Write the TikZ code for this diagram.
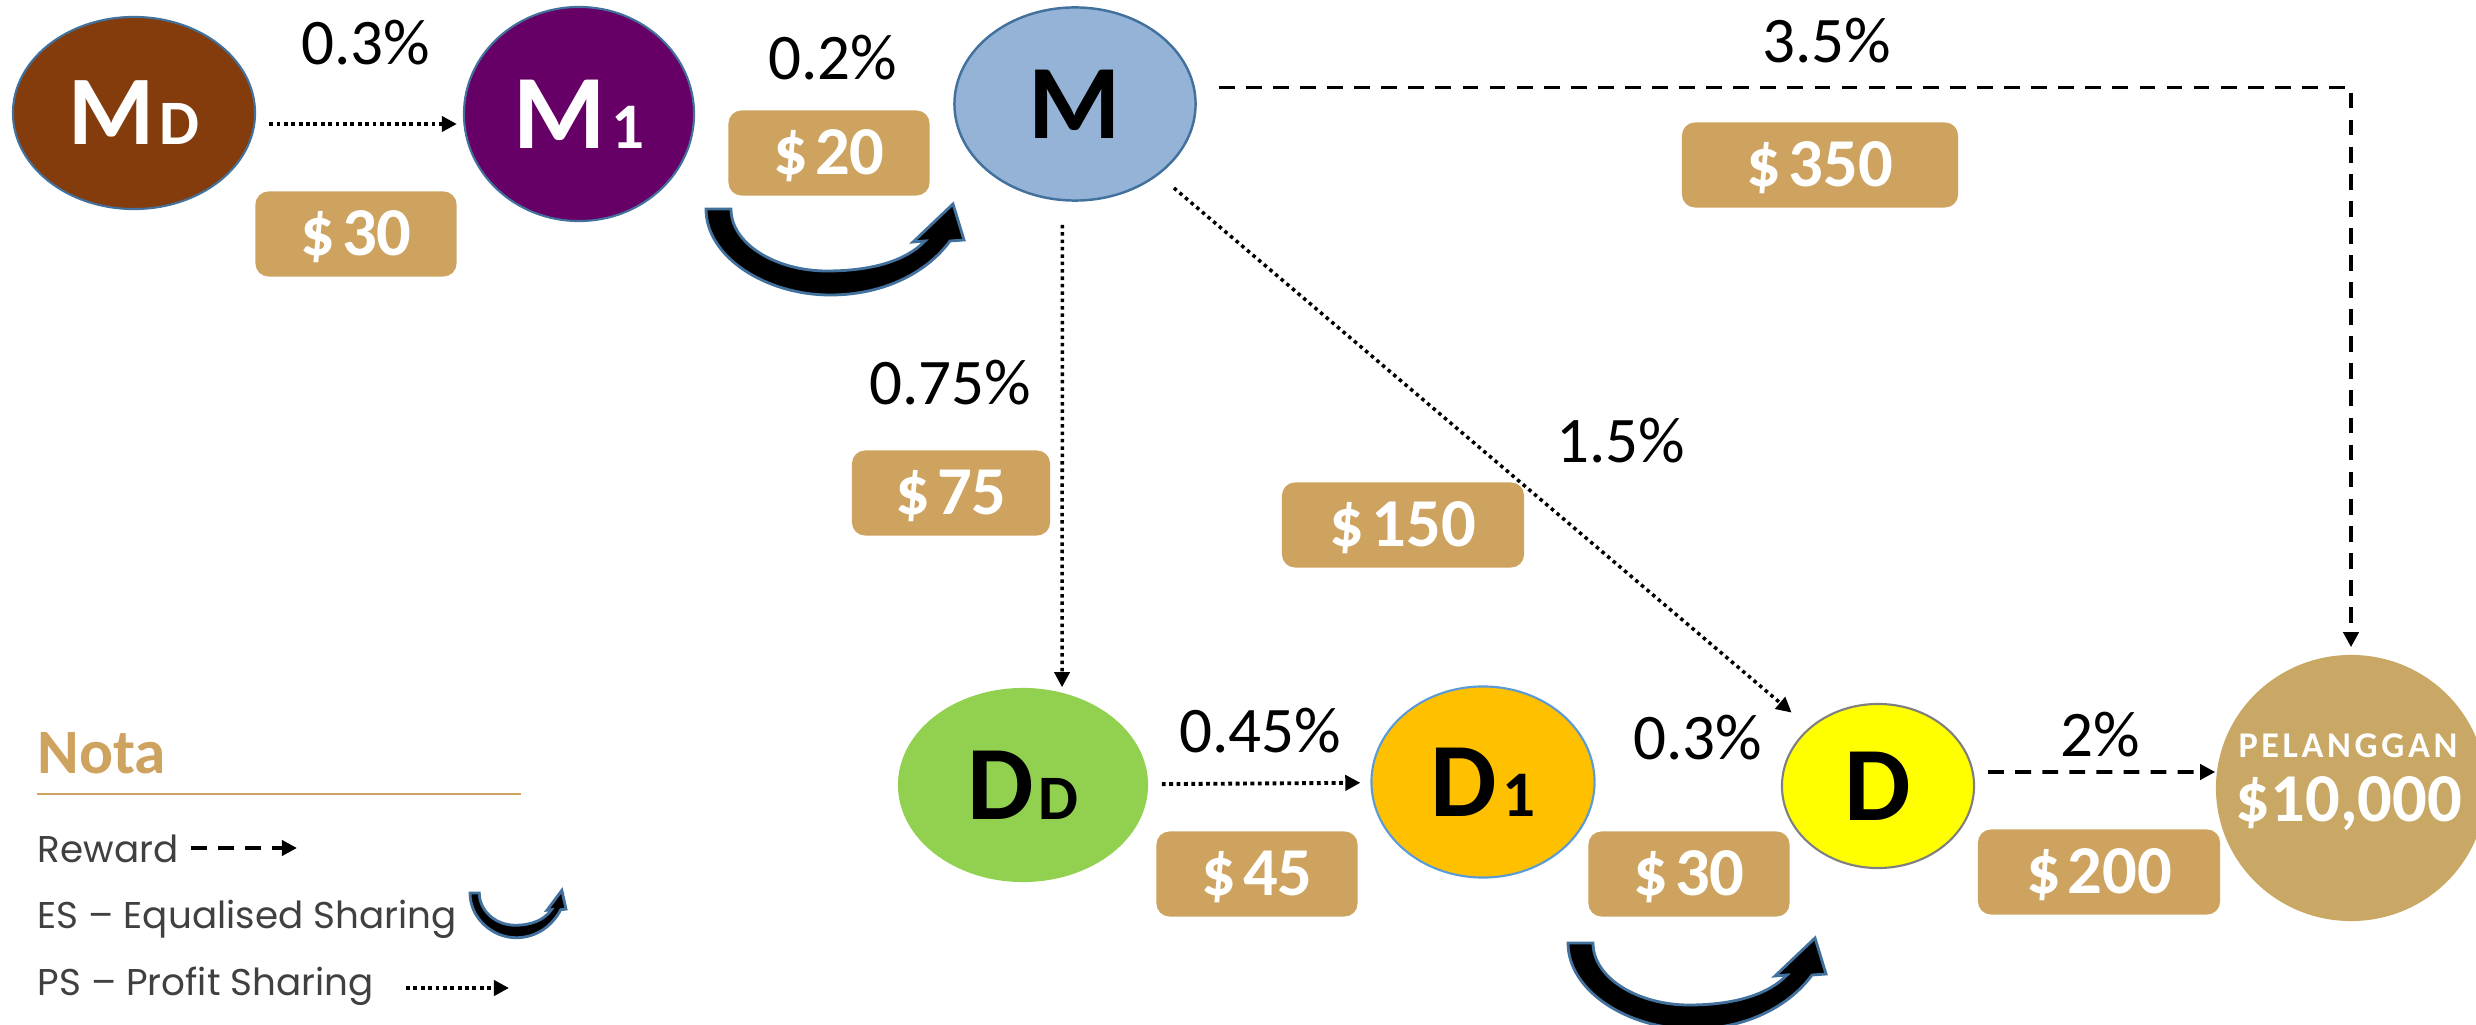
\documentclass[tikz,border=0pt]{standalone}
\usepackage{fontspec}
\setmainfont{Carlito}
\newfontfamily\poppins{Poppins}
\newfontfamily\spaced[LetterSpace=10]{Carlito}
\usetikzlibrary{shapes.geometric, arrows.meta}

\definecolor{brownMD}{HTML}{843C0C}
\definecolor{purpleM}{HTML}{660066}
\definecolor{blueM}{HTML}{95B3D7}
\definecolor{greenD}{HTML}{92D050}
\definecolor{orangeD}{HTML}{FFC000}
\definecolor{yellowD}{HTML}{FFFF00}
\definecolor{gold}{HTML}{CDA35F}
\definecolor{goldP}{HTML}{C9A865}
\definecolor{edgeblue}{HTML}{41719C}
\definecolor{lightedge}{HTML}{5B9BD5}
\definecolor{greyedge}{HTML}{7F7F7F}
\definecolor{legendtext}{HTML}{404040}

\tikzset{
  member/.style={ellipse, inner sep=0pt, font=\bfseries},
  money/.style={rectangle, rounded corners=0.13cm, fill=gold, text=white, inner sep=0pt,
    minimum height=0.85cm, minimum width=2.01cm, text height=12.3pt, text depth=0pt,
    font=\bfseries\fontsize{19.5}{19.5}\selectfont},
  pct/.style={anchor=base, inner sep=0pt, font=\fontsize{18.5}{18.5}\selectfont},
  ps/.style={line width=1.1pt, dash pattern=on 1.1pt off 1pt, -{Triangle[length=4.3pt,width=4.3pt]}},
  psthin/.style={ps, line width=1pt, dash pattern=on 1pt off 1.1pt},
  reward/.style={line width=1.1pt, dash pattern=on 4.5pt off 3.2pt, -{Triangle[length=4.3pt,width=4.3pt]}},
  legend/.style={anchor=base west, inner sep=0pt, text=legendtext, font=\poppins\fontsize{10.6}{10.6}\selectfont},
  pics/esarrow/.style={code={
    \draw[fill=black, draw=edgeblue, line width=0.8pt, line join=miter]
      (0,0) .. controls (0,48) and (60,86) .. (124,86)
      .. controls (180,86) and (222,62) .. (244,32)
      -- (258,31) -- (247,-5) -- (207,33) -- (219,32)
      .. controls (200,52) and (165,62) .. (121,62)
      .. controls (70,62) and (25,35) .. (25,0) -- cycle;
  }}
}

\begin{document}
\begin{tikzpicture}[x=0.01cm, y=-0.01cm]
\useasboundingbox (0,0) rectangle (2476,1025);

% members
\node[member, fill=brownMD, draw=edgeblue, line width=0.6pt, text=white, minimum width=2.42cm, minimum height=1.92cm] (MD) at (134,113)
  {{\fontsize{28}{28}\selectfont M}\hspace{1.5pt}{\fontsize{18}{18}\selectfont D}};
\node[member, fill=purpleM, draw=edgeblue, line width=0.6pt, text=white, minimum width=2.3cm, minimum height=2.14cm] (M1) at (579,114)
  {{\fontsize{30}{30}\selectfont M}\hspace{1.5pt}{\fontsize{18.5}{18.5}\selectfont 1}};
\node[member, fill=blueM, draw=edgeblue, line width=0.7pt, minimum width=2.41cm, minimum height=1.93cm] (M) at (1075,104)
  {\fontsize{30}{30}\selectfont M};
\node[member, fill=greenD, minimum width=2.5cm, minimum height=1.94cm] (DD) at (1023,785)
  {{\fontsize{30}{30}\selectfont D}\hspace{1.5pt}{\fontsize{18}{18}\selectfont D}};
\node[member, fill=orangeD, draw=lightedge, line width=0.6pt, minimum width=2.23cm, minimum height=1.91cm] (D1) at (1483,782)
  {{\fontsize{30}{30}\selectfont D}\hspace{1.5pt}{\fontsize{18.5}{18.5}\selectfont 1}};
\node[member, fill=yellowD, draw=greyedge, line width=0.6pt, minimum width=1.92cm, minimum height=1.64cm] (D) at (1878,786)
  {\fontsize{30}{30}\selectfont D};
\node[member, fill=goldP, minimum width=2.7cm, minimum height=2.66cm] (P) at (2351,788) {};
\node[anchor=base, inner sep=0pt, text=white, font=\spaced\bfseries\fontsize{10.3}{10.3}\selectfont] (pName) at (2348,758) {PELANGGAN};
\node[anchor=base, inner sep=0pt, text=white, font=\bfseries\fontsize{19.5}{19.5}\selectfont] (pAmount) at (2349,821) {\$10,000};

% percentages
\node[pct] (pMD) at (366,65) {0.3\%};
\node[pct] (pM1) at (833,80) {0.2\%};
\node[pct] (pMP) at (1827,63) {3.5\%};
\node[pct] (pMDD) at (950,405) {0.75\%};
\node[pct] (pMD2) at (1621,463) {1.5\%};
\node[pct] (pDD) at (1260,752) {0.45\%};
\node[pct] (pD1) at (1698,759) {0.3\%};
\node[pct] (pDP) at (2100,756) {2\%};

% amounts
\node[money] (aMD) at (356,234) {\$\hspace{2pt}30};
\node[money] (aM1) at (829,153) {\$\hspace{2pt}20};
\node[money, minimum width=2.76cm] (aMP) at (1820,165) {\$\hspace{2pt}350};
\node[money, minimum width=1.98cm] (aMDD) at (951,493) {\$\hspace{2pt}75};
\node[money, minimum width=2.42cm] (aMD2) at (1403,525) {\$\hspace{2pt}150};
\node[money] (aDD) at (1257,874) {\$\hspace{2pt}45};
\node[money] (aD1) at (1689,874) {\$\hspace{2pt}30};
\node[money, minimum width=2.42cm] (aDP) at (2099,872) {\$\hspace{2pt}200};

% sharing arrows
\draw[ps, shorten <=0.13cm, shorten >=0.06cm] ([yshift=-0.11cm]MD.east) -- ([yshift=-0.1cm]M1.west);
\draw[psthin, shorten <=0.23cm] ([xshift=-0.125cm]M.south) -- ([xshift=0.39cm]DD.north);
\draw[psthin, shorten <=0.2cm, shorten >=0.23cm] (M) -- (D);
\draw[ps, shorten <=0.13cm, shorten >=0.1cm] (DD) -- (D1);
\draw[reward, shorten <=0.13cm] ([yshift=0.14cm]D.east) -- ([yshift=0.16cm]P.west);
\draw[reward, shorten >=0.07cm] ([xshift=0.22cm, yshift=0.165cm]M.east) -| (P.north);

\pic at (706,209) {esarrow};
\pic at (1568,943) {esarrow};

% legend
\node[anchor=base west, inner sep=0pt, text=gold, font=\bfseries\fontsize{18}{18}\selectfont] (nota) at (37,773) {Nota};
\draw[gold, line width=0.85pt] (37,794) -- (521,794);
\node[legend] (lgR) at (37,862) {Reward};
\coordinate (rwS) at (191,848);
\coordinate (rwE) at (297,848);
\draw[reward] (rwS) -- (rwE);
\node[legend] (lgE) at (37,928) {ES – Equalised Sharing};
\pic[xscale=0.372, yscale=0.52] at (470,893) {esarrow};
\node[legend] (lgP) at (37,995) {PS – Profit Sharing};
\coordinate (psS) at (406,988);
\coordinate (psE) at (509,988);
\draw[ps] (psS) -- (psE);
\end{tikzpicture}
\end{document}
